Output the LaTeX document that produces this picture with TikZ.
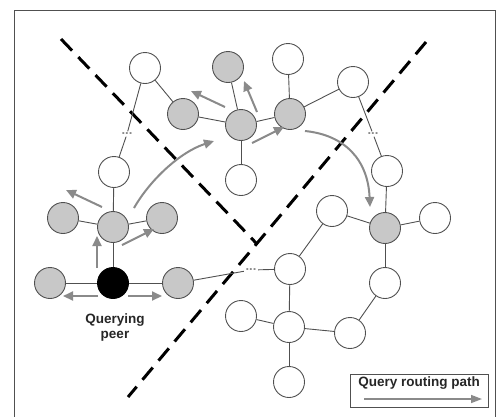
\documentclass[tikz,border=0pt]{standalone}
\usepackage{fontspec}
\setmainfont{Liberation Sans}
\usetikzlibrary{arrows.meta}
\definecolor{nodegray}{HTML}{C8C8C8}
\definecolor{edgegray}{HTML}{505050}
\definecolor{arrgray}{HTML}{8A8A8A}
\begin{document}
\begin{tikzpicture}[x=1pt,y=-1pt,
  peer/.style={circle,draw=edgegray,line width=0.9pt,minimum size=31pt,inner sep=0pt},
  wpeer/.style={peer,fill=white},
  gpeer/.style={peer,fill=nodegray},
  bpeer/.style={peer,fill=black,draw=black},
  link/.style={draw=edgegray,line width=0.9pt},
  dots/.style={inner sep=1.5pt,text=arrgray,font=\bfseries\fontsize{13}{13}\selectfont},
  qarrow/.style={draw=arrgray,line width=2pt,-{Triangle[length=10pt,width=9pt]}},
  border/.style={dashed,line width=3pt,dash pattern=on 16pt off 9pt},
  lbl/.style={font=\bfseries\fontsize{13.5}{17}\selectfont,text=black!85}]
\useasboundingbox (0,0) rectangle (497,416);
\draw[edgegray,line width=1pt] (14,10) rectangle (495,425);
% dashed borders
\coordinate (b1s) at (61,39);
\coordinate (b1e) at (257,244);
\coordinate (b2s) at (426,42);
\coordinate (b2e) at (128,397);
\draw[border] (b1s) -- (b1e);
\draw[border] (b2s) -- (b2e);
% nodes
\node[wpeer] (A1) at (145,68) {};
\node[gpeer] (G1) at (183,114) {};
\node[gpeer] (G2) at (228,67) {};
\node[gpeer] (C) at (241,125) {};
\node[gpeer] (G3) at (290,114) {};
\node[wpeer] (T3) at (288,59) {};
\node[wpeer] (Wc) at (241,180) {};
\node[wpeer] (WR) at (353,82) {};
\node[wpeer] (WR2) at (387,171) {};
\node[gpeer] (G4) at (385,228) {};
\node[wpeer] (WRr) at (435,218) {};
\node[wpeer] (WB4) at (385,283) {};
\node[wpeer] (Rt) at (332,211) {};
\node[wpeer] (U) at (290,269) {};
\node[wpeer] (L) at (289,327) {};
\node[wpeer] (Ll) at (241,316) {};
\node[wpeer] (Mm) at (350,333) {};
\node[wpeer] (Bt) at (289,382) {};
\node[wpeer] (W1) at (114,172) {};
\node[gpeer] (GQ) at (113,227) {};
\node[gpeer] (GQl) at (63,218) {};
\node[gpeer] (GQr) at (162,218) {};
\node[bpeer] (Q) at (113,283) {};
\node[gpeer] (GL) at (50,283) {};
\node[gpeer] (GR) at (178,283) {};
\node[dots] (d1) at (127,134) {...};
\node[dots] (d2) at (373,134) {...};
\node[dots] (d3) at (251,270) {...};
% links
\foreach \a/\b in {A1/G1,G1/C,C/G2,C/G3,C/Wc,G3/T3,G3/WR,WR2/G4,G4/WRr,G4/WB4,G4/Rt,Rt/U,U/L,L/Ll,L/Mm,L/Bt,Mm/WB4,W1/GQ,GQ/GQl,GQ/GQr,GQ/Q,Q/GL,Q/GR,A1/d1,d1/W1,WR/d2,d2/WR2,GR/d3,d3/U}
  \path[link] (\a) -- (\b);
% routing arrows
\coordinate (a1s) at (98,296); \coordinate (a1e) at (63,296);
\coordinate (a2s) at (128,296); \coordinate (a2e) at (162,296);
\coordinate (a3s) at (97,268); \coordinate (a3e) at (97,236);
\coordinate (a4s) at (122,245); \coordinate (a4e) at (154,229);
\coordinate (a5s) at (102,207); \coordinate (a5e) at (66,190);
\coordinate (a6s) at (134,208); \coordinate (a6e) at (214,141);
\coordinate (a7s) at (225,107); \coordinate (a7e) at (191,91);
\coordinate (a8s) at (257,112); \coordinate (a8e) at (244,81);
\coordinate (a9s) at (252,143); \coordinate (a9e) at (284,127);
\coordinate (a10s) at (305,131); \coordinate (a10e) at (370,207);
\draw[qarrow] (a1s) -- (a1e);
\draw[qarrow] (a2s) -- (a2e);
\draw[qarrow] (a3s) -- (a3e);
\draw[qarrow] (a4s) -- (a4e);
\draw[qarrow] (a5s) -- (a5e);
\draw[qarrow] (a6s) .. controls (150,180) and (180,152) .. (a6e);
\draw[qarrow] (a7s) -- (a7e);
\draw[qarrow] (a8s) -- (a8e);
\draw[qarrow] (a9s) -- (a9e);
\draw[qarrow] (a10s) .. controls (345,135) and (368,160) .. (a10e);
% labels
\node[lbl,align=center,inner sep=0pt] (qp) at (115,327) {Querying\\[-2pt]peer};
\node[draw=edgegray,line width=1pt,minimum width=138pt,minimum height=33pt] (leg) at (419,390.5) {};
\node[lbl,inner sep=0pt] (legt) at (419,383) {Query routing path};
\coordinate (l1) at (364,399); \coordinate (l2) at (482,399);
\draw[draw=arrgray,line width=1.5pt,-{Triangle[length=11pt,width=8pt]}] (l1) -- (l2);
\end{tikzpicture}
\end{document}
